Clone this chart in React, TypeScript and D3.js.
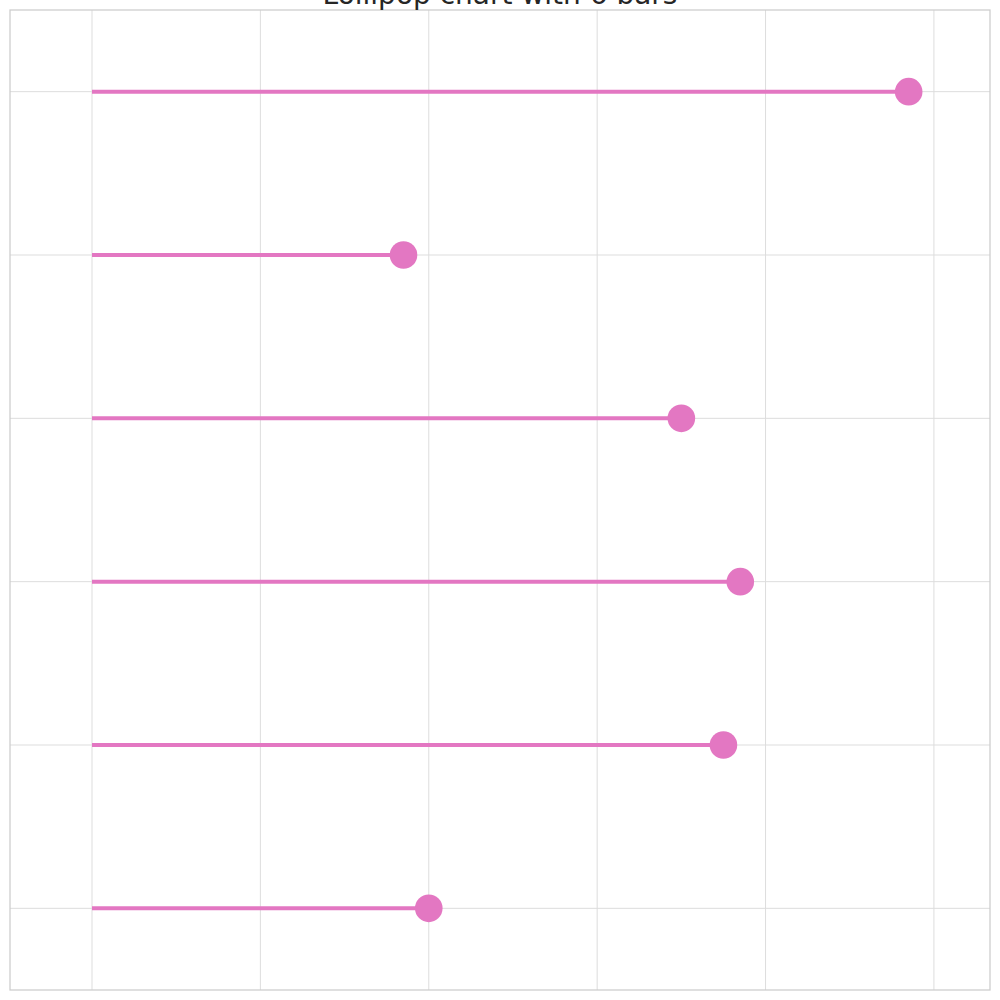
import { useEffect, useRef } from 'react'
import * as d3 from 'd3'

const categories = ['A', 'B', 'C', 'D', 'E', 'F']
const values = [4.85, 1.85, 3.5, 3.85, 3.75, 2.0]
const xTicks = [0, 1, 2, 3, 4, 5]
const title = 'Lollipop chart with 6 bars'

export default function App() {
  const svgRef = useRef<SVGSVGElement>(null)

  useEffect(() => {
    if (!svgRef.current) return
    const svg = d3.select(svgRef.current)
    svg.selectAll('*').remove()

    const width = 1000
    const height = 1000
    const margin = { top: 10, right: 10, bottom: 10, left: 10 }
    const innerWidth = width - margin.left - margin.right
    const innerHeight = height - margin.top - margin.bottom

    const g = svg
      .append('g')
      .attr('transform', `translate(${margin.left},${margin.top})`)

    // 0 sits at 92px, 5 at 934px in the page
    const xScale = d3.scaleLinear()
      .domain([-0.487, 5.333])
      .range([0, innerWidth])

    const yScale = d3.scalePoint<string>()
      .domain(categories)
      .range([0, innerHeight])
      .padding(0.5)

    // grid
    g.selectAll('line.vgrid')
      .data(xTicks)
      .join('line')
      .attr('class', 'vgrid')
      .attr('x1', d => xScale(d))
      .attr('x2', d => xScale(d))
      .attr('y1', 0)
      .attr('y2', innerHeight)
      .attr('stroke', '#dddddd')
      .attr('stroke-width', 1)

    g.selectAll('line.hgrid')
      .data(categories)
      .join('line')
      .attr('class', 'hgrid')
      .attr('x1', 0)
      .attr('x2', innerWidth)
      .attr('y1', d => yScale(d) || 0)
      .attr('y2', d => yScale(d) || 0)
      .attr('stroke', '#dddddd')
      .attr('stroke-width', 1)

    const color = '#e377c2'

    // stems
    g.selectAll('line.stem')
      .data(categories)
      .join('line')
      .attr('class', 'stem')
      .attr('x1', xScale(0))
      .attr('x2', (_, i) => xScale(values[i]))
      .attr('y1', d => yScale(d) || 0)
      .attr('y2', d => yScale(d) || 0)
      .attr('stroke', color)
      .attr('stroke-width', 4)

    // heads
    g.selectAll('circle.head')
      .data(categories)
      .join('circle')
      .attr('class', 'head')
      .attr('cx', (_, i) => xScale(values[i]))
      .attr('cy', d => yScale(d) || 0)
      .attr('r', 13.8)
      .attr('fill', color)

    // frame
    g.append('rect')
      .attr('x', 0)
      .attr('y', 0)
      .attr('width', innerWidth)
      .attr('height', innerHeight)
      .attr('fill', 'none')
      .attr('stroke', '#cccccc')
      .attr('stroke-width', 1.25)

    svg.append('text')
      .attr('x', width / 2)
      .attr('y', 4)
      .attr('text-anchor', 'middle')
      .attr('font-family', 'DejaVu Sans')
      .attr('font-size', 28)
      .attr('fill', '#262626')
      .text(title)
  }, [])

  return (
    <svg
      ref={svgRef}
      width={1000}
      height={1000}
      style={{ position: 'absolute', left: 0, top: 0, background: '#fff' }}
    />
  )
}
